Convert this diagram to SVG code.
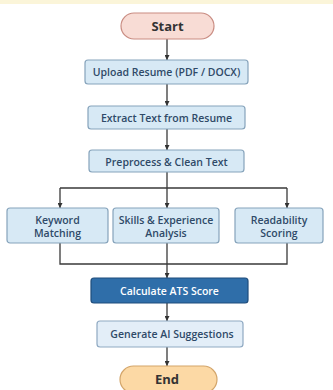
<svg xmlns="http://www.w3.org/2000/svg" width="333" height="390" viewBox="0 0 333 390">
<defs>
<marker id="ah" viewBox="0 0 10 10" refX="10" refY="5" markerWidth="5" markerHeight="5" orient="auto" markerUnits="userSpaceOnUse"><path d="M0,0 L10,5 L0,10 z" fill="#333"/></marker>
<style>
.box{fill:#d7e9f5;stroke:#86a3bb;stroke-width:1.2}
.t{font-family:"Open Sans","DejaVu Sans",sans-serif;font-weight:600;font-size:10.5px;fill:#2f4a68;text-anchor:middle;dominant-baseline:central}
.ln{fill:none;stroke:#3a3a3a;stroke-width:1.3}
</style>
</defs>
<rect width="333" height="390" fill="#ffffff"/>
<rect width="333" height="4" fill="#fbf5d9"/>
<g id="connectors">
<path class="ln" d="M167,39 V60" marker-end="url(#ah)"/>
<path class="ln" d="M167,84 V106" marker-end="url(#ah)"/>
<path class="ln" d="M167,129 V150" marker-end="url(#ah)"/>
<path class="ln" d="M167,172 V188 M60,188 H287"/>
<path class="ln" d="M60,188 V208" marker-end="url(#ah)"/>
<path class="ln" d="M167,188 V208" marker-end="url(#ah)"/>
<path class="ln" d="M287,188 V208" marker-end="url(#ah)"/>
<path class="ln" d="M60,243 V264 H287 V243"/>
<path class="ln" d="M167,243 V278" marker-end="url(#ah)"/>
<path class="ln" d="M167,303 V321" marker-end="url(#ah)"/>
<path class="ln" d="M167,347 V366" marker-end="url(#ah)"/>
</g>
<g id="start">
<rect x="121" y="13" width="93" height="26" rx="13" fill="#f8dcd5" stroke="#c98c82" stroke-width="1.2"/>
<text class="t" x="167.5" y="26" style="font-size:13px;font-weight:700;fill:#333">Start</text>
</g>
<g id="upload">
<rect class="box" x="85" y="60" width="163" height="24" rx="3"/>
<text class="t" x="166.5" y="72">Upload Resume (PDF / DOCX)</text>
</g>
<g id="extract">
<rect class="box" x="88" y="106" width="157" height="23" rx="3"/>
<text class="t" x="166.5" y="118">Extract Text from Resume</text>
</g>
<g id="preprocess">
<rect class="box" x="89" y="150" width="155" height="22" rx="3"/>
<text class="t" x="166.5" y="161.5">Preprocess &amp; Clean Text</text>
</g>
<g id="keyword">
<rect class="box" x="7" y="208" width="101" height="35" rx="3"/>
<text class="t" x="57.5" y="219.5">Keyword</text>
<text class="t" x="57.5" y="233">Matching</text>
</g>
<g id="skills">
<rect class="box" x="113" y="208" width="106" height="35" rx="3"/>
<text class="t" x="166" y="219.5">Skills &amp; Experience</text>
<text class="t" x="166" y="233">Analysis</text>
</g>
<g id="readability">
<rect class="box" x="235" y="208" width="88" height="35" rx="3"/>
<text class="t" x="279" y="219.5">Readability</text>
<text class="t" x="279" y="233">Scoring</text>
</g>
<g id="calculate">
<rect x="91" y="278" width="157" height="25" rx="3" fill="#2f6ea9" stroke="#1f4d7c" stroke-width="1.2"/>
<text class="t" x="169.5" y="290.5" style="fill:#ffffff">Calculate ATS Score</text>
</g>
<g id="generate">
<rect x="97" y="321" width="146" height="26" rx="3" fill="#e3eef8" stroke="#8fa9c2" stroke-width="1.2"/>
<text class="t" x="172" y="334">Generate AI Suggestions</text>
</g>
<g id="end">
<rect x="120" y="366" width="97" height="27" rx="13.5" fill="#fcd9a5" stroke="#d3a56a" stroke-width="1.2"/>
<text class="t" x="167" y="379" style="font-size:13px;font-weight:700;fill:#333">End</text>
</g>
</svg>
